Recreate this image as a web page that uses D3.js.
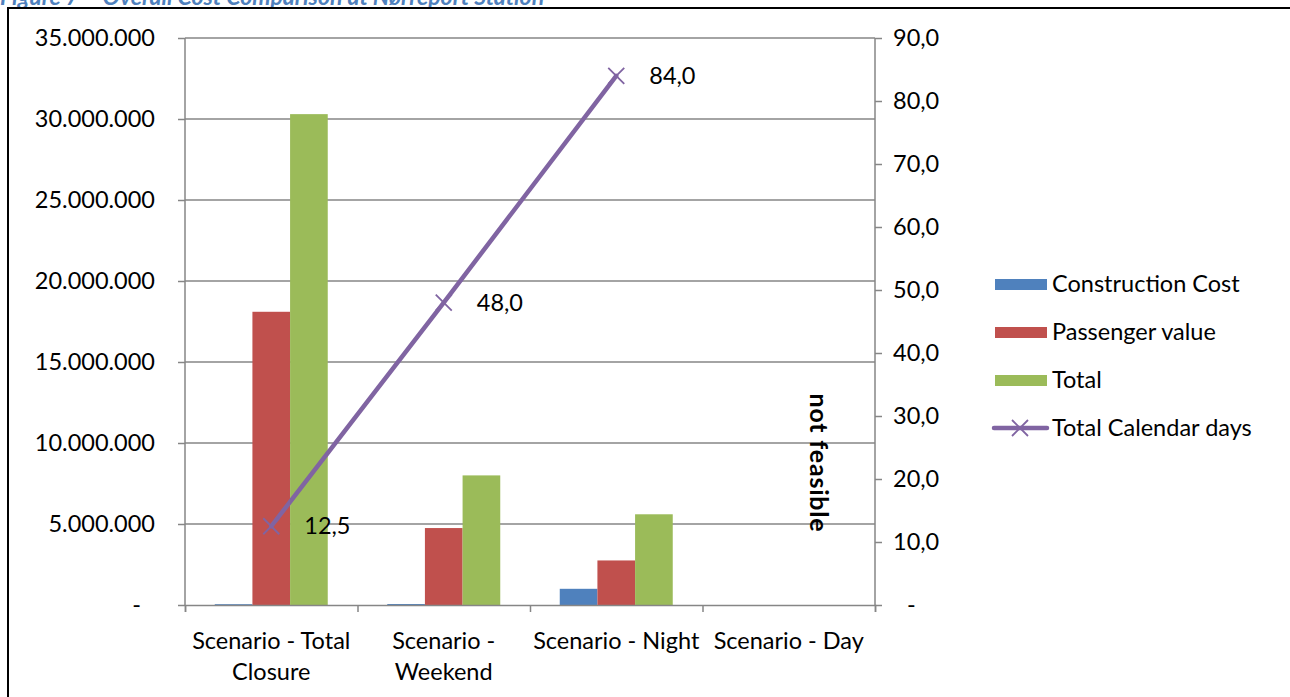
<!DOCTYPE html>
<html>
<head>
<meta charset="utf-8">
<script src="https://cdn.jsdelivr.net/npm/d3@7"></script>
<style>
  body { margin: 0; background: #fff; }
  svg { display: block; font-family: Lato, "Noto Sans", sans-serif; }
</style>
</head>
<body>
<svg id="chart"></svg>
<script>
const categories = [["Scenario - Total", "Closure"], ["Scenario -", "Weekend"], ["Scenario - Night"], ["Scenario - Day"]];
const seriesNames = ["Construction Cost", "Passenger value", "Total"];
const constructionCost = [50000, 60000, 1000000, 0];
const passengerValue = [18100000, 4750000, 2750000, 0];
const totalCost = [30300000, 8000000, 5600000, 0];
const calendarDays = [12.5, 48.0, 84.0, null];
const leftTicks = [0, 5000000, 10000000, 15000000, 20000000, 25000000, 30000000, 35000000];
const rightTicks = [0, 10, 20, 30, 40, 50, 60, 70, 80, 90];

const colors = ["#4F81BD", "#C0504D", "#9BBB59"];
const lineColor = "#8064A2";
const axisColor = "#868686";

const width = 1290, height = 697;
const plotLeft = 185, plotRight = 875, plotTop = 38, plotBottom = 605;
const fs = 23.5;

const svg = d3.select("#chart").attr("width", width).attr("height", height);

// caption, cut off at the top as in the source page
svg.append("text")
  .attr("x", 0).attr("y", 5)
  .attr("fill", "#4F81BD")
  .attr("font-size", 23).attr("font-weight", "bold").attr("font-style", "italic")
  .text("Figure 7 \u2013 Overall Cost Comparison at N\u00f8rreport Station");

svg.append("rect")
  .attr("x", 8).attr("y", 8).attr("width", 1300).attr("height", 720)
  .attr("fill", "none").attr("stroke", "#000").attr("stroke-width", 2);

const x0 = d3.scaleBand().domain(d3.range(categories.length)).range([plotLeft, plotRight]).padding(0);
const x1 = d3.scaleBand().domain(seriesNames).range([0, x0.bandwidth()]).paddingInner(0).paddingOuter(0.79);
const yL = d3.scaleLinear().domain([0, 35000000]).range([plotBottom, plotTop]);
const yR = d3.scaleLinear().domain([0, 90]).range([plotBottom, plotTop]);

const fmtL = d => d === 0 ? "-" : d3.format(",")(d).replace(/,/g, ".");
const fmtR = d => d === 0 ? "-" : d3.format(".1f")(d).replace(".", ",");

// gridlines
svg.append("g").selectAll("line")
  .data(leftTicks.filter(d => d > 0))
  .join("line")
  .attr("x1", plotLeft).attr("x2", plotRight)
  .attr("y1", d => yL(d)).attr("y2", d => yL(d))
  .attr("stroke", axisColor).attr("stroke-width", 1.5);

// bars
const seriesValues = [constructionCost, passengerValue, totalCost];
seriesNames.forEach((name, si) => {
  svg.append("g").selectAll("rect")
    .data(seriesValues[si])
    .join("rect")
    .attr("x", (d, i) => x0(i) + x1(name))
    .attr("width", x1.bandwidth())
    .attr("y", d => yL(d))
    .attr("height", d => plotBottom - yL(d))
    .attr("fill", colors[si]);
});

// axes
const gL = svg.append("g").attr("transform", `translate(${plotLeft},0)`)
  .call(d3.axisLeft(yL).tickValues(leftTicks).tickFormat(fmtL).tickSize(7).tickPadding(23));
const gR = svg.append("g").attr("transform", `translate(${plotRight},0)`)
  .call(d3.axisRight(yR).tickValues(rightTicks).tickFormat(fmtR).tickSize(7).tickPadding(11));
const gB = svg.append("g").attr("transform", `translate(0,${plotBottom})`)
  .call(d3.axisBottom(d3.scaleLinear().domain([0, 4]).range([plotLeft, plotRight]))
    .tickValues([0, 1, 2, 3, 4]).tickFormat("").tickSize(7));

[gL, gR, gB].forEach(g => {
  g.select(".domain").attr("stroke", axisColor).attr("stroke-width", 1.5);
  g.selectAll(".tick line").attr("stroke", axisColor).attr("stroke-width", 1.5);
  g.selectAll("text").attr("font-size", fs).attr("fill", "#000").attr("font-family", "Lato, sans-serif");
});
gL.select(".domain").attr("d", `M0,${plotTop}V${plotBottom}`);
gR.select(".domain").attr("d", `M0,${plotTop}V${plotBottom}`);
gR.selectAll(".tick text").filter(d => d === 0).attr("dx", 14);
gL.selectAll(".tick text").filter(d => d === 0).attr("dx", -14);

// category labels
svg.append("g").selectAll("text")
  .data(categories)
  .join("text")
  .attr("text-anchor", "middle")
  .attr("font-size", fs)
  .attr("x", (d, i) => x0(i) + x0.bandwidth() / 2)
  .attr("y", 649)
  .each(function (lines) {
    const t = d3.select(this);
    t.selectAll("tspan").data(lines).join("tspan")
      .attr("x", t.attr("x"))
      .attr("dy", (d, j) => j === 0 ? 0 : 31)
      .text(d => d);
  });

// line series
const pts = calendarDays.map((v, i) => ({ i, v })).filter(p => p.v !== null);
const cx = p => x0(p.i) + x0.bandwidth() / 2;
svg.append("path")
  .datum(pts)
  .attr("fill", "none").attr("stroke", lineColor).attr("stroke-width", 4.5)
  .attr("stroke-linecap", "round")
  .attr("d", d3.line().x(cx).y(p => yR(p.v)));

const cross = (g, x, y, s) => {
  g.append("path")
    .attr("d", `M${x - s},${y - s}L${x + s},${y + s}M${x - s},${y + s}L${x + s},${y - s}`)
    .attr("stroke", lineColor).attr("stroke-width", 1.8).attr("fill", "none");
};
const markers = svg.append("g");
pts.forEach(p => cross(markers, cx(p), yR(p.v), 8));

svg.append("g").selectAll("text")
  .data(pts)
  .join("text")
  .attr("x", p => cx(p) + 33)
  .attr("y", p => yR(p.v) + 8)
  .attr("font-size", fs)
  .text(p => fmtR(p.v));

// not feasible note
svg.append("text")
  .attr("transform", `translate(810,463) rotate(90)`)
  .attr("text-anchor", "middle")
  .attr("font-size", 25).attr("font-weight", "bold")
  .attr("letter-spacing", 0.8)
  .text("not feasible");

// legend
const legendNames = seriesNames.concat(["Total Calendar days"]);
const lg = svg.append("g");
legendNames.forEach((name, i) => {
  const ly = 284 + i * 48;
  if (i < 3) {
    lg.append("rect").attr("x", 995).attr("y", ly - 5).attr("width", 52).attr("height", 11).attr("fill", colors[i]);
  } else {
    lg.append("line").attr("x1", 994).attr("x2", 1047).attr("y1", ly).attr("y2", ly)
      .attr("stroke", lineColor).attr("stroke-width", 4.5).attr("stroke-linecap", "round");
    cross(lg, 1020, ly, 8);
  }
  lg.append("text").attr("x", 1052).attr("y", ly + 8).attr("font-size", fs).text(name);
});
</script>
</body>
</html>
